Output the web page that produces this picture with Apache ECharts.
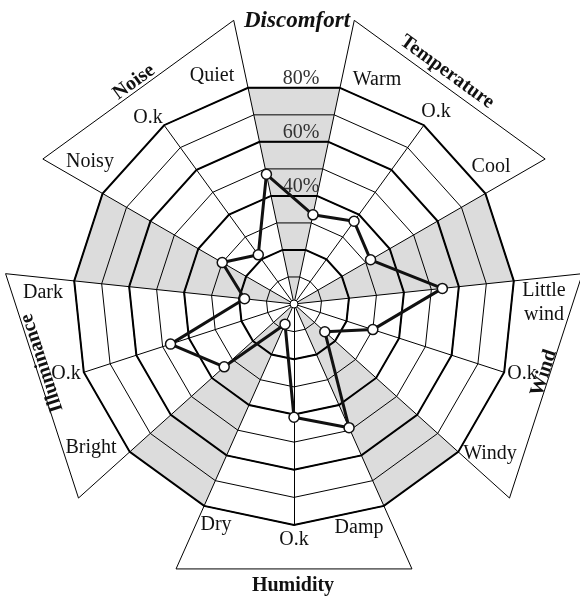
<!DOCTYPE html>
<html>
<head>
<meta charset="utf-8">
<script src="https://cdn.jsdelivr.net/npm/echarts@6/dist/echarts.min.js"></script>
<style>
  html, body { margin: 0; padding: 0; background: #fff; }
  #chart { width: 580px; height: 599px; }
</style>
</head>
<body>
<div id="chart"></div>
<script>
// spokes listed clockwise, starting at the first one right of 12 o'clock
const categories = ["Warm", "O.k", "Cool", "Little\nwind", "O.k", "Windy", "Damp", "O.k", "Dry", "Bright", "O.k", "Dark", "Noisy", "O.k", "Quiet"];
const groups = ["Temperature", "Wind", "Humidity", "Illuminance", "Noise"];
const zoneTitle = "Discomfort";
// shaded discomfort sectors (full scale on the two spokes that bound each one)
const discomfortZone = [80, 0, 80, 80, 0, 80, 80, 0, 80, 80, 0, 80, 80, 0, 80];
const measured = [33, 37, 32, 54, 30, 15, 49, 41, 8, 34, 47, 18, 30, 22, 48];
const tickValues = [40, 60, 80];
const tickLabels = ["40%", "60%", "80%"];
const maxValue = 80;

// layout
const cx = 294, cy = 304, R = 221, frameR = 290;
const firstAngle = 12, step = 360 / categories.length;
const serif = '"Liberation Serif", "Times New Roman", serif';
const labelPos = [
  [377, 80], [436, 112], [491, 167], [544, 303], [522, 374], [490, 454], [359, 528], [294, 540],
  [216, 525], [91, 448], [66, 374], [43, 293], [90, 162], [148, 118], [212, 76],
];
const groupPos = [
  { x: 447, y: 72, rot: -36 },
  { x: 544, y: 373, rot: 72 },
  { x: 293, y: 586, rot: 0 },
  { x: 42, y: 363, rot: 108 },
  { x: 134, y: 82, rot: 36 },
];

// echarts radar runs counter-clockwise, so flip everything after the first spoke
const toRadar = (arr) => [arr[0], ...arr.slice(1).reverse()];

function pt(deg, r) {
  const a = (deg * Math.PI) / 180;
  return [cx + r * Math.sin(a), cy - r * Math.cos(a)];
}

const chart = echarts.init(document.getElementById("chart"));

const indicator = toRadar(categories).map((n) => ({ name: n, min: 0, max: maxValue }));
const radarBase = {
  center: [cx, cy],
  radius: R,
  startAngle: 90 - firstAngle,
  shape: "polygon",
  indicator: indicator,
  axisName: { show: false },
  splitArea: { show: false },
  z: 3,
};

const graphics = [];

// group frames: spokes pushed out to frameR and joined
groups.forEach((g, i) => {
  const a1 = firstAngle + i * 3 * step;
  const a2 = a1 + 2 * step;
  graphics.push({
    type: "polyline",
    z: 3,
    silent: true,
    shape: { points: [pt(a1, R), pt(a1, frameR), pt(a2, frameR), pt(a2, R)] },
    style: { stroke: "#000", lineWidth: 1, fill: null },
  });
  const p = groupPos[i];
  graphics.push({
    type: "text",
    x: p.x,
    y: p.y,
    rotation: (p.rot * Math.PI) / 180,
    z: 6,
    style: {
      text: g,
      font: "bold 20px " + serif,
      fill: "#111",
      align: "center",
      verticalAlign: "middle",
    },
  });
});

graphics.push({
  type: "text",
  x: 297,
  y: 21,
  z: 6,
  style: {
    text: zoneTitle,
    font: "italic bold 23px " + serif,
    fill: "#111",
    align: "center",
    verticalAlign: "middle",
  },
});

// spoke labels
categories.forEach((c, i) => {
  graphics.push({
    type: "text",
    x: labelPos[i][0],
    y: labelPos[i][1],
    z: 6,
    style: {
      text: c,
      font: "20px " + serif,
      lineHeight: 24,
      fill: "#111",
      align: "center",
      verticalAlign: "middle",
    },
  });
});

// percent ticks, sitting on the rings inside the top sector
const apothem = Math.cos((firstAngle * Math.PI) / 180);
tickValues.forEach((v, i) => {
  graphics.push({
    type: "text",
    x: 301,
    y: cy - (R * v * apothem) / maxValue - 9,
    z: 4,
    style: {
      text: tickLabels[i],
      font: "20px " + serif,
      fill: "#333",
      align: "center",
      verticalAlign: "middle",
    },
  });
});

graphics.push({
  type: "circle",
  z: 7,
  shape: { cx: cx, cy: cy, r: 4 },
  style: { fill: "#fff", stroke: "#000", lineWidth: 1 },
});

const option = {
  animation: false,
  backgroundColor: "#fff",
  radar: [
    Object.assign({}, radarBase, {
      splitNumber: 8,
      splitLine: { lineStyle: { color: "#000", width: 1 } },
      axisLine: { lineStyle: { color: "#000", width: 1 } },
    }),
    Object.assign({}, radarBase, {
      splitNumber: 4,
      splitLine: { lineStyle: { color: "#000", width: 2 } },
      axisLine: { show: false },
    }),
  ],
  graphic: graphics,
  series: [
    {
      type: "radar",
      radarIndex: 0,
      z: 1,
      silent: true,
      symbol: "none",
      lineStyle: { width: 0, opacity: 0 },
      areaStyle: { color: "#dcdcdc", opacity: 1 },
      data: [{ value: toRadar(discomfortZone) }],
    },
    {
      type: "radar",
      radarIndex: 0,
      z: 5,
      symbol: "circle",
      symbolSize: 10,
      lineStyle: { color: "#111", width: 3 },
      itemStyle: { color: "#fff", borderColor: "#111", borderWidth: 1.5 },
      data: [{ value: toRadar(measured) }],
    },
  ],
};

chart.setOption(option);
</script>
</body>
</html>
